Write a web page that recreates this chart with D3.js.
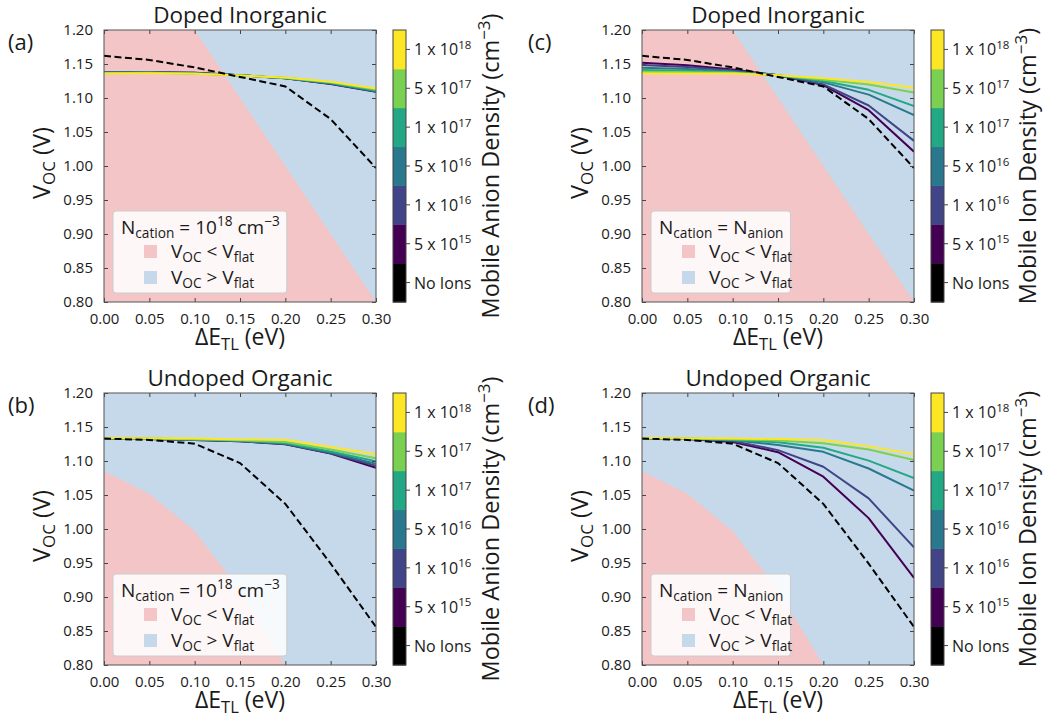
<!DOCTYPE html>
<html>
<head>
<meta charset="utf-8">
<script src="https://cdn.jsdelivr.net/npm/d3@7"></script>
<style>
  body { margin: 0; background: #fff; }
  text { font-family: "Open Sans", sans-serif; fill: #1a1a1a; }
</style>
</head>
<body>
<svg id="fig"></svg>
<script>
// energy offset of the transport layer (x axis)
const dE = [0, 0.05, 0.10, 0.15, 0.20, 0.25, 0.30];
const xTicks = [0, 0.05, 0.10, 0.15, 0.20, 0.25, 0.30];
const yTicks = [0.80, 0.85, 0.90, 0.95, 1.00, 1.05, 1.10, 1.15, 1.20];

// colorbar categories, bottom to top: [mantissa text, exponent]
const densityLabels = [['No Ions', ''], ['5 x 10', '15'], ['1 x 10', '16'], ['5 x 10', '16'],
  ['1 x 10', '17'], ['5 x 10', '17'], ['1 x 10', '18']];

// flat band voltage boundary
const vflatDoped = [1.40, 1.30, 1.20, 1.10, 1.00, 0.90, 0.80];
const vflatUndoped = [1.085, 1.052, 0.997, 0.91, 0.80, 0.66, 0.50];

// no ions (dashed)
const noIonsDoped = [1.162, 1.156, 1.145, 1.131, 1.117, 1.069, 0.997];
const noIonsUndoped = [1.133, 1.131, 1.1255, 1.097, 1.037, 0.949, 0.856];

// (a) doped inorganic, fixed cation density, series 5e15 .. 1e18
const a5e15 = [1.138, 1.138, 1.137, 1.1335, 1.129, 1.1205, 1.109];
const a1e16 = [1.138, 1.138, 1.137, 1.1335, 1.129, 1.121, 1.1095];
const a5e16 = [1.1375, 1.1375, 1.1365, 1.1335, 1.129, 1.1215, 1.110];
const a1e17 = [1.137, 1.137, 1.136, 1.1333, 1.1295, 1.122, 1.111];
const a5e17 = [1.1365, 1.137, 1.136, 1.133, 1.1298, 1.123, 1.1125];
const a1e18 = [1.136, 1.1365, 1.1358, 1.133, 1.130, 1.124, 1.114];

// (c) doped inorganic, N_cation = N_anion
const c5e15 = [1.152, 1.148, 1.142, 1.1335, 1.119, 1.082, 1.021];
const c1e16 = [1.1485, 1.1455, 1.1405, 1.1335, 1.120, 1.089, 1.037];
const c5e16 = [1.1445, 1.1425, 1.139, 1.1335, 1.123, 1.105, 1.075];
const c1e17 = [1.141, 1.140, 1.1375, 1.1335, 1.125, 1.112, 1.088];
const c5e17 = [1.1385, 1.138, 1.137, 1.1335, 1.127, 1.120, 1.108];
const c1e18 = [1.136, 1.136, 1.136, 1.1335, 1.129, 1.1235, 1.115];

// (b) undoped organic, fixed cation density
const b5e15 = [1.133, 1.1325, 1.131, 1.129, 1.1245, 1.111, 1.090];
const b1e16 = [1.133, 1.1325, 1.131, 1.129, 1.125, 1.1115, 1.093];
const b5e16 = [1.133, 1.1325, 1.1315, 1.1295, 1.1255, 1.1125, 1.096];
const b1e17 = [1.133, 1.133, 1.1318, 1.130, 1.1265, 1.114, 1.0995];
const b5e17 = [1.1335, 1.133, 1.132, 1.1305, 1.128, 1.117, 1.104];
const b1e18 = [1.134, 1.1335, 1.133, 1.1318, 1.1312, 1.1205, 1.110];

// (d) undoped organic, N_cation = N_anion
const d5e15 = [1.133, 1.1325, 1.128, 1.113, 1.077, 1.016, 0.928];
const d1e16 = [1.133, 1.1325, 1.1295, 1.116, 1.0915, 1.045, 0.973];
const d5e16 = [1.133, 1.1328, 1.1305, 1.1235, 1.1135, 1.089, 1.0565];
const d1e17 = [1.133, 1.133, 1.131, 1.1275, 1.1195, 1.1005, 1.075];
const d5e17 = [1.1335, 1.1332, 1.132, 1.1303, 1.126, 1.117, 1.1015];
const d1e18 = [1.134, 1.1335, 1.1332, 1.1322, 1.131, 1.1215, 1.110];

const ionColors = ['#000000', '#440154', '#414487', '#2a788e', '#22a884', '#7ad151', '#fde725'];
const PINK = '#f3c5c6';
const BLUE = '#c5d9ea';
const W = 272, H = 272;

const svg = d3.select('#fig').attr('width', 1045).attr('height', 718);
svg.append('rect').attr('width', 1045).attr('height', 718).attr('fill', '#fff');

// append text made of [string, 'sub'|'sup'|null] parts
function rich(sel, parts, size) {
  let shift = 0;
  parts.forEach(([s, k]) => {
    const target = k === 'sub' ? size * 0.2 : k === 'sup' ? -size * 0.4 : 0;
    sel.append('tspan')
      .attr('dy', target - shift)
      .attr('font-size', k ? size * 0.72 : size)
      .text(s);
    shift = target;
  });
  return sel;
}

function panel(o) {
  const g = svg.append('g').attr('transform', `translate(${o.left},${o.top})`);
  const x = d3.scaleLinear().domain([0, 0.3]).range([0, W]);
  const y = d3.scaleLinear().domain([0.8, 1.2]).range([H, 0]);

  g.append('clipPath').attr('id', 'clip' + o.tag)
    .append('rect').attr('width', W).attr('height', H);
  const body = g.append('g').attr('clip-path', `url(#clip${o.tag})`);
  body.append('rect').attr('width', W).attr('height', H).attr('fill', BLUE);

  const area = d3.area().x((d, i) => x(dE[i])).y0(H).y1(d => y(d));
  body.append('path').datum(o.vflat).attr('d', area).attr('fill', PINK);

  const line = d3.line().x((d, i) => x(dE[i])).y(d => y(d));
  o.series.forEach((s, i) => {
    body.append('path').datum(s).attr('d', line)
      .attr('fill', 'none').attr('stroke', ionColors[i + 1])
      .attr('stroke-width', 2).attr('stroke-linejoin', 'round');
  });
  body.append('path').datum(o.noIons).attr('d', line)
    .attr('fill', 'none').attr('stroke', '#000')
    .attr('stroke-width', 2).attr('stroke-dasharray', '7,3.5');

  // axes, ticks inward on all sides
  const fmt = d3.format('.2f');
  const ax = [
    g.append('g').attr('transform', `translate(0,${H})`)
      .call(d3.axisBottom(x).tickValues(xTicks).tickFormat(fmt).tickSizeInner(-4).tickSizeOuter(0).tickPadding(11)),
    g.append('g')
      .call(d3.axisLeft(y).tickValues(yTicks).tickFormat(fmt).tickSizeInner(-4).tickSizeOuter(0).tickPadding(11)),
    g.append('g')
      .call(d3.axisTop(x).tickValues(xTicks).tickFormat('').tickSizeInner(-4).tickSizeOuter(0)),
    g.append('g').attr('transform', `translate(${W},0)`)
      .call(d3.axisRight(y).tickValues(yTicks).tickFormat('').tickSizeInner(-4).tickSizeOuter(0))
  ];
  ax.forEach(a => {
    a.select('.domain').remove();
    a.selectAll('.tick line').attr('stroke', '#444');
    a.selectAll('.tick text').attr('font-size', 15).attr('fill', '#1a1a1a')
      .style('font-family', '"Open Sans", sans-serif');
  });
  g.append('rect').attr('width', W).attr('height', H)
    .attr('fill', 'none').attr('stroke', '#555').attr('stroke-width', 1);

  // titles and labels
  g.append('text').attr('x', W / 2).attr('y', -7).attr('text-anchor', 'middle')
    .attr('font-size', 22.5).text(o.title);
  svg.append('text').attr('x', o.labelX).attr('y', o.top + 20).attr('font-size', 22).text(o.label);
  rich(g.append('text').attr('x', W / 2).attr('y', 315).attr('text-anchor', 'middle'),
    [['ΔE'], ['TL', 'sub'], [' (eV)']], 23);
  rich(g.append('text').attr('transform', `translate(-54,${H / 2 - 3}) rotate(-90)`)
    .attr('text-anchor', 'middle'), [['V'], ['OC', 'sub'], [' (V)']], 23.5);

  // legend, anchored to the lower left corner
  const lgH = 82;
  const lg = g.append('g').attr('transform', `translate(9,${H - 9 - lgH})`);
  const frame = lg.append('rect').attr('rx', 3).attr('fill', '#fff').attr('fill-opacity', 0.85)
    .attr('stroke', '#ccc').attr('height', lgH);
  const t = rich(lg.append('text').attr('x', 8).attr('y', 23), o.legendTitle, 19);
  const tw = t.node().getComputedTextLength();
  frame.attr('width', tw + 15);
  [[PINK, ' < '], [BLUE, ' > ']].forEach(([c, op], i) => {
    lg.append('rect').attr('x', 31).attr('y', 34 + i * 26).attr('width', 13).attr('height', 13).attr('fill', c);
    rich(lg.append('text').attr('x', 58).attr('y', 47 + i * 26),
      [['V'], ['OC', 'sub'], [op + 'V'], ['flat', 'sub']], 19);
  });

  // discrete colorbar
  const cb = g.append('g').attr('transform', `translate(${W + 17},0)`);
  const cy = d3.scaleBand().domain(d3.range(densityLabels.length)).range([H, 0]);
  cb.selectAll('rect.seg').data(densityLabels).join('rect').attr('class', 'seg')
    .attr('x', 0).attr('width', 13)
    .attr('y', (d, i) => cy(i)).attr('height', cy.bandwidth() + 0.5)
    .attr('fill', (d, i) => ionColors[i]);
  cb.append('rect').attr('width', 13).attr('height', H).attr('fill', 'none').attr('stroke', '#444');
  densityLabels.forEach((d, i) => {
    const yy = cy(i) + cy.bandwidth() / 2;
    cb.append('line').attr('x1', 13).attr('x2', 17).attr('y1', yy).attr('y2', yy).attr('stroke', '#444');
    const tt = cb.append('text').attr('x', 21).attr('y', yy + 6);
    rich(tt, d[1] ? [[d[0]], [d[1], 'sup']] : [[d[0]]], 16);
  });
  rich(cb.append('text').attr('transform', `translate(${o.cbLabelX},${H / 2}) rotate(-90)`)
    .attr('text-anchor', 'middle'), [[o.cbLabel + ' (cm'], ['−3', 'sup'], [')']], 23.5);
}

const cationTitle = [['N'], ['cation', 'sub'], [' = 10'], ['18', 'sup'], [' cm'], ['−3', 'sup']];
const equalTitle = [['N'], ['cation', 'sub'], [' = N'], ['anion', 'sub']];

panel({ tag: 'a', left: 104, top: 30, labelX: 8, title: 'Doped Inorganic', label: '(a)',
  vflat: vflatDoped, noIons: noIonsDoped, series: [a5e15, a1e16, a5e16, a1e17, a5e17, a1e18],
  legendTitle: cationTitle, cbLabel: 'Mobile Anion Density', cbLabelX: 106 });
panel({ tag: 'b', left: 104, top: 393, labelX: 8, title: 'Undoped Organic', label: '(b)',
  vflat: vflatUndoped, noIons: noIonsUndoped, series: [b5e15, b1e16, b5e16, b1e17, b5e17, b1e18],
  legendTitle: cationTitle, cbLabel: 'Mobile Anion Density', cbLabelX: 106 });
panel({ tag: 'c', left: 642, top: 30, labelX: 528, title: 'Doped Inorganic', label: '(c)',
  vflat: vflatDoped, noIons: noIonsDoped, series: [c5e15, c1e16, c5e16, c1e17, c5e17, c1e18],
  legendTitle: equalTitle, cbLabel: 'Mobile Ion Density', cbLabelX: 105 });
panel({ tag: 'd', left: 642, top: 393, labelX: 528, title: 'Undoped Organic', label: '(d)',
  vflat: vflatUndoped, noIons: noIonsUndoped, series: [d5e15, d1e16, d5e16, d1e17, d5e17, d1e18],
  legendTitle: equalTitle, cbLabel: 'Mobile Ion Density', cbLabelX: 105 });
</script>
</body>
</html>
